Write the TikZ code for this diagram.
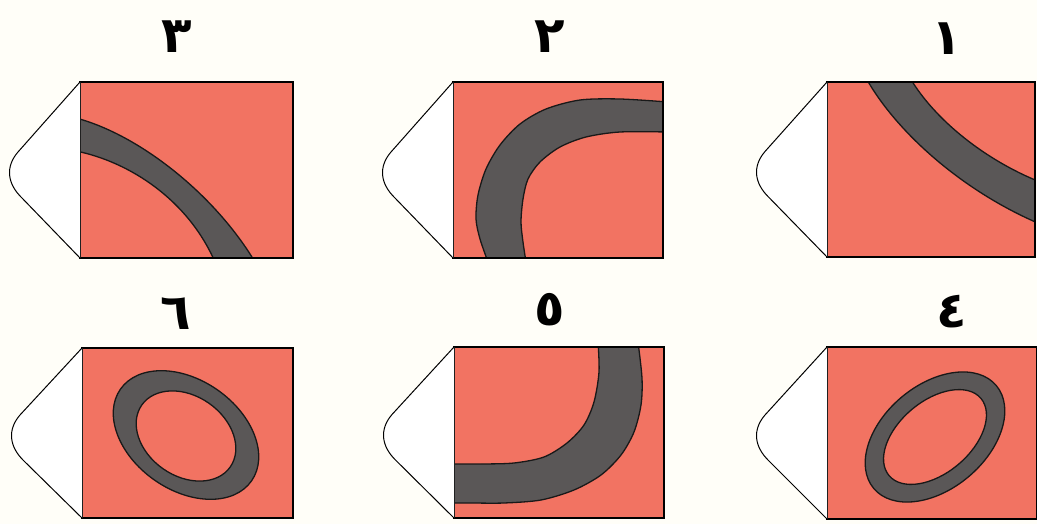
\documentclass[tikz,border=0pt]{standalone}
\usepackage{fontspec}
\newfontfamily\arabicfont[Script=Arabic]{DejaVu Sans}
\TeXXeTstate=1
\definecolor{salmon}{RGB}{242,115,98}
\definecolor{bandgray}{RGB}{90,87,87}
\definecolor{paper}{RGB}{255,254,248}
\tikzset{
  body/.style={fill=salmon},
  bodyline/.style={draw=black, line width=1.8pt},
  tipshape/.style={fill=white, draw=black, line width=1pt, line join=round},
  bandfill/.style={fill=bandgray},
  bandline/.style={draw=black!90, line width=1.3pt},
  numlabel/.style={font=\arabicfont\bfseries\fontsize{50}{50}\selectfont, inner sep=0pt}
}
\newcommand{\tipat}[3]{%
  \draw[tipshape] (#1,#2) -- ({#1-62},{(#2+#3)/2-18})
    .. controls ({#1-75},{(#2+#3)/2-3}) and ({#1-72.6},{(#2+#3)/2+14}) ..
    ({#1-58},{(#2+#3)/2+28}) -- (#1,#3);}
\begin{document}
\begin{tikzpicture}[x=1pt,y=-1pt]
\useasboundingbox (0,0) rectangle (1037,524);
\fill[paper] (0,0) rectangle (1037,524);

% ---------- panel 1 (label 3) ----------
\fill[body] (80,82) rectangle (293,258);
\begin{scope}
\clip (80,82) rectangle (293,258);
\fill[bandfill] (76,118) .. controls (140,135) and (215,195) .. (255,262)
  -- (215,262) .. controls (188,200) and (130,162) .. (76,151) -- cycle;
\draw[bandline] (76,118) .. controls (140,135) and (215,195) .. (255,262);
\draw[bandline] (215,262) .. controls (188,200) and (130,162) .. (76,151);
\end{scope}
\draw[bodyline] (80,82) rectangle (293,258);
\tipat{80}{82}{258}

% ---------- panel 2 (label 2) ----------
\fill[body] (453,82) rectangle (663,258);
\begin{scope}
\clip (453,82) rectangle (663,258);
\fill[bandfill] plot[smooth] coordinates {(668,102) (620,99) (580,100) (546,109) (520,124) (500,145) (486,169) (478,195) (476,219) (480,239) (488,262)}
  -- plot[smooth] coordinates {(526,262) (523,242) (521,222) (523,199) (528,179) (540,162) (560,147) (586,137) (620,132) (668,132)} -- cycle;
\draw[bandline] plot[smooth] coordinates {(668,102) (620,99) (580,100) (546,109) (520,124) (500,145) (486,169) (478,195) (476,219) (480,239) (488,262)};
\draw[bandline] plot[smooth] coordinates {(526,262) (523,242) (521,222) (523,199) (528,179) (540,162) (560,147) (586,137) (620,132) (668,132)};
\end{scope}
\draw[bodyline] (453,82) rectangle (663,258);
\tipat{453}{82}{258}

% ---------- panel 3 (label 1) ----------
\fill[body] (827,82) rectangle (1035,257);
\begin{scope}
\clip (827,82) rectangle (1035,257);
\fill[bandfill] (866,78) .. controls (895,130) and (960,190) .. (1040,224)
  -- (1040,182) .. controls (985,160) and (935,120) .. (910,78) -- cycle;
\draw[bandline] (866,78) .. controls (895,130) and (960,190) .. (1040,224);
\draw[bandline] (1040,182) .. controls (985,160) and (935,120) .. (910,78);
\end{scope}
\draw[bodyline] (827,82) rectangle (1035,257);
\tipat{827}{82}{257}

% ---------- panel 4 (label 6) ----------
\fill[body] (82,348) rectangle (293,518);
\begin{scope}
\clip (82,348) rectangle (293,518);
\fill[bandfill, even odd rule] (186,435) ellipse [x radius=80, y radius=55, rotate=-35]
  (186,436) ellipse [x radius=54, y radius=40, rotate=-35];
\draw[bandline] (186,435) ellipse [x radius=80, y radius=55, rotate=-35];
\draw[bandline] (186,436) ellipse [x radius=54, y radius=40, rotate=-35];
\end{scope}
\draw[bodyline] (82,348) rectangle (293,518);
\tipat{82}{348}{518}

% ---------- panel 5 (label 5) ----------
\fill[body] (454,347) rectangle (664,518);
\begin{scope}
\clip (454,347) rectangle (664,518);
\fill[bandfill] plot[smooth] coordinates {(638,342) (642,378) (641,405) (634,432) (621,455) (601,475) (574,490) (541,500) (504,503) (471,503) (450,503)}
  -- plot[smooth] coordinates {(450,464) (481,464) (514,463) (544,457) (567,443) (584,425) (594,402) (599,372) (598,342)} -- cycle;
\draw[bandline] plot[smooth] coordinates {(638,342) (642,378) (641,405) (634,432) (621,455) (601,475) (574,490) (541,500) (504,503) (471,503) (450,503)};
\draw[bandline] plot[smooth] coordinates {(450,464) (481,464) (514,463) (544,457) (567,443) (584,425) (594,402) (599,372) (598,342)};
\end{scope}
\draw[bodyline] (454,347) rectangle (664,518);
\tipat{454}{347}{518}

% ---------- panel 6 (label 4) ----------
\fill[body] (827,347) rectangle (1037,519);
\begin{scope}
\clip (827,347) rectangle (1037,519);
\fill[bandfill, even odd rule] (935,437) ellipse [x radius=80, y radius=52, rotate=40]
  (935,437) ellipse [x radius=60, y radius=36, rotate=40];
\draw[bandline] (935,437) ellipse [x radius=80, y radius=52, rotate=40];
\draw[bandline] (935,437) ellipse [x radius=60, y radius=36, rotate=40];
\end{scope}
\draw[bodyline] (827,347) rectangle (1037,519);
\tipat{827}{347}{519}

% ---------- labels ----------
\node[numlabel] (l3) at (177,37) {\beginR ٣\endR};
\node[numlabel] (l2) at (550,37) {\beginR ٢\endR};
\node[numlabel] (l1) at (947,39) {\beginR ١\endR};
\node[numlabel] (l6) at (176,314) {\beginR ٦\endR};
\node[numlabel] (l5) at (550,310) {\beginR ٥\endR};
\node[numlabel] (l4) at (952,312) {\beginR ٤\endR};
\end{tikzpicture}
\end{document}
